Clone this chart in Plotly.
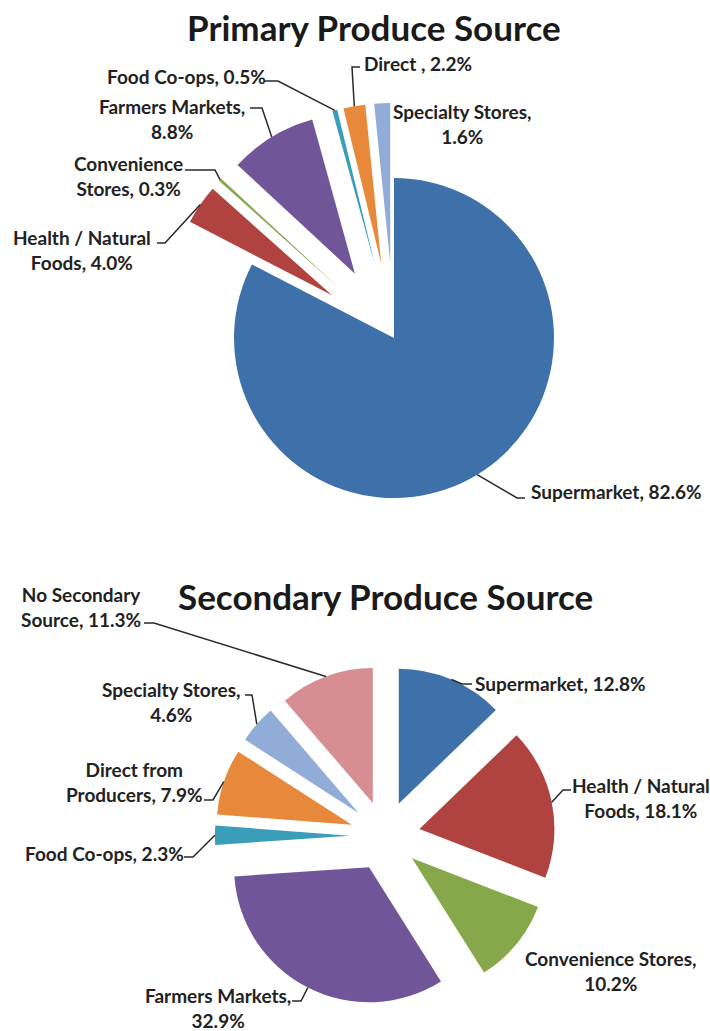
import math
import plotly.graph_objects as go

W, H = 710, 1031

# ---------------- data ----------------
primary_names = ["Supermarket", "Health / Natural Foods", "Convenience Stores",
                 "Farmers Markets", "Food Co-ops", "Direct", "Specialty Stores"]
primary_values = [82.6, 4.0, 0.3, 8.8, 0.5, 2.2, 1.6]
primary_display = ["Supermarket", "Health / Natural<br>Foods", "Convenience<br>Stores",
                   "Farmers Markets", "Food Co-ops", "Direct ", "Specialty Stores"]
primary_break = [False, False, False, True, False, False, True]

secondary_names = ["Supermarket", "Health / Natural Foods", "Convenience Stores",
                   "Farmers Markets", "Food Co-ops", "Direct from Producers",
                   "Specialty Stores", "No Secondary Source"]
secondary_values = [12.8, 18.1, 10.2, 32.9, 2.3, 7.9, 4.6, 11.3]
secondary_display = ["Supermarket", "Health / Natural<br>Foods", "Convenience Stores",
                     "Farmers Markets", "Food Co-ops", "Direct from<br>Producers",
                     "Specialty Stores", "No Secondary<br>Source"]
secondary_break = [False, False, True, True, False, False, True, False]

# ---------------- styles / layout ----------------
COLORS = {
    "Supermarket": "#3E70AA",
    "Health / Natural Foods": "#B04340",
    "Convenience Stores": "#86A84A",
    "Farmers Markets": "#705698",
    "Food Co-ops": "#3A9EB8",
    "Direct": "#E8883A",
    "Direct from Producers": "#E8883A",
    "Specialty Stores": "#92ACD8",
    "No Secondary Source": "#D68E92",
}
FONT = "Lato, 'Open Sans', sans-serif"
TXT = "#222222"
LABEL_SIZE = 19
TITLE_SIZE = 35

P_GEOM = dict(cx=394, cy=338, r=160, pull=0.47)
S_GEOM = dict(cx=385, cy=836, r=135, pull=0.26)

# label block centers (px) and leader start/elbow (px)
P_LABEL_POS = {
    "Supermarket": (616, 492), "Health / Natural Foods": (82, 250),
    "Convenience Stores": (128, 176), "Farmers Markets": (172, 119),
    "Food Co-ops": (186, 77), "Direct": (418, 63), "Specialty Stores": (462, 124),
}
P_LEADERS = {
    "Supermarket": (525, 498, 517, 498), "Health / Natural Foods": (157, 243, 165, 243),
    "Convenience Stores": (185, 170, 215, 170), "Farmers Markets": (250, 108, 262, 108),
    "Food Co-ops": (265, 81, 278, 81), "Direct": (360, 67, 352, 67),
}
S_LABEL_POS = {
    "Supermarket": (560, 683), "Health / Natural Foods": (641, 798),
    "Convenience Stores": (610, 971), "Farmers Markets": (218, 1008),
    "Food Co-ops": (104, 853), "Direct from Producers": (134, 782),
    "Specialty Stores": (171, 702), "No Secondary Source": (81, 607),
}
S_LEADERS = {
    "Supermarket": (472, 684, 462, 684), "Health / Natural Foods": (571, 790, 563, 790),
    "Farmers Markets": (292, 1001, 301, 1001), "Food Co-ops": (184, 857, 193, 857),
    "Direct from Producers": (204, 800, 213, 800), "Specialty Stores": (245, 695, 252, 695),
    "No Secondary Source": (144, 623, 154, 623),
}


def domain(g):
    half = g["r"] * (1 + g["pull"])
    return dict(x=[(g["cx"] - half) / W, (g["cx"] + half) / W],
                y=[1 - (g["cy"] + half) / H, 1 - (g["cy"] - half) / H])


def attach(values, i, g, pull):
    total = sum(values)
    mid = (sum(values[:i]) + values[i] / 2) / total * 2 * math.pi
    d = g["r"] * (1 + pull)
    return g["cx"] + d * math.sin(mid), g["cy"] - d * math.cos(mid)


def px(x, y):
    return x / W, 1 - y / H


fig = go.Figure()

charts = [
    (primary_names, primary_values, primary_display, primary_break, P_GEOM,
     [0] + [P_GEOM["pull"]] * (len(primary_values) - 1), P_LABEL_POS, P_LEADERS),
    (secondary_names, secondary_values, secondary_display, secondary_break, S_GEOM,
     [S_GEOM["pull"]] * len(secondary_values), S_LABEL_POS, S_LEADERS),
]

annotations = []
shapes = []
for names, values, disp, brk, g, pulls, lpos, leaders in charts:
    fig.add_trace(go.Pie(
        labels=names, values=values, sort=False, direction="clockwise", rotation=0,
        pull=pulls, textinfo="none", hoverinfo="label+percent",
        marker=dict(colors=[COLORS[n] for n in names], line=dict(width=0)),
        domain=domain(g), showlegend=False,
    ))
    for i, n in enumerate(names):
        text = disp[i] + "," + ("<br>" if brk[i] else " ") + f"{values[i]:.1f}%"
        x, y = lpos[n]
        ax, ay = px(x, y)
        annotations.append(dict(
            text=text, x=ax, y=ay, xref="paper", yref="paper", showarrow=False,
            xanchor="center", yanchor="middle", align="center",
            font=dict(family=FONT, size=LABEL_SIZE, color=TXT, weight=700),
        ))
        if n in leaders:
            sx, sy, ex, ey = leaders[n]
            tx, ty = attach(values, i, g, pulls[i])
            pts = [px(sx, sy), px(ex, ey), px(tx, ty)]
            path = "M {} {} L {} {} L {} {}".format(*[c for p in pts for c in p])
            shapes.append(dict(type="path", path=path, xref="paper", yref="paper",
                               line=dict(color="#2a2a2a", width=1.5)))

for title, (x, y) in [("Primary Produce Source", (374, 27)),
                      ("Secondary Produce Source", (385, 596))]:
    ax, ay = px(x, y)
    annotations.append(dict(
        text=title, x=ax, y=ay, xref="paper", yref="paper", showarrow=False,
        xanchor="center", yanchor="middle",
        font=dict(family=FONT, size=TITLE_SIZE, color="#1a1a1a", weight=700),
    ))

fig.update_layout(
    width=W, height=H, margin=dict(l=0, r=0, t=0, b=0),
    paper_bgcolor="white", plot_bgcolor="white",
    annotations=annotations, shapes=shapes,
)

fig.write_html("out.html")
